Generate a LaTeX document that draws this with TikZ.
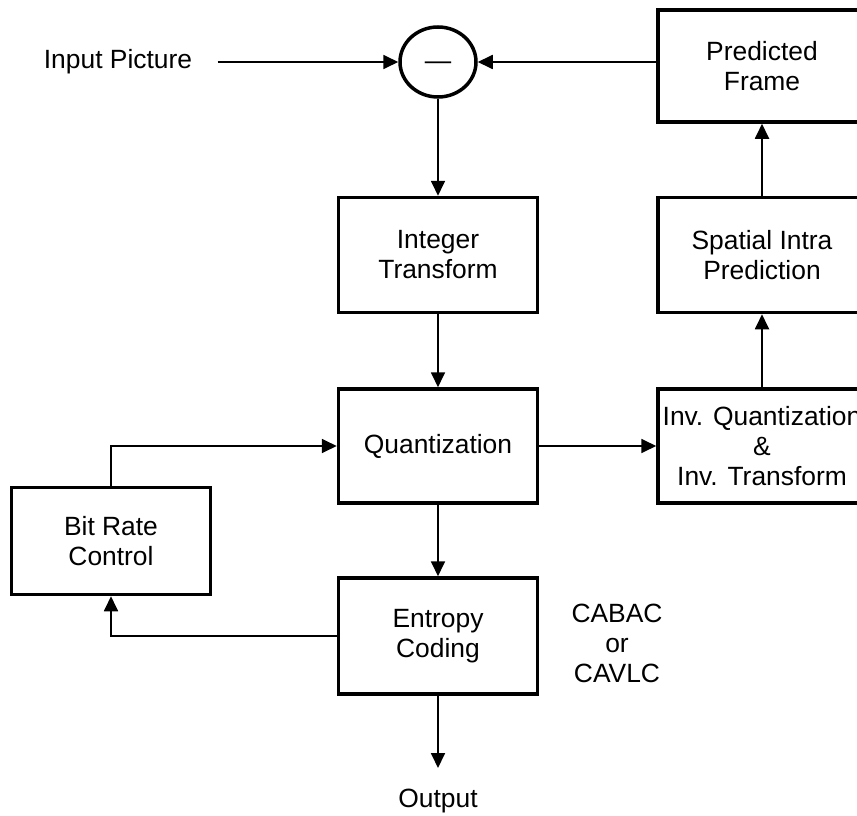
\documentclass[tikz,border=0pt]{standalone}
\usepackage{fontspec}
\setmainfont{Liberation Sans}
\usetikzlibrary{arrows.meta,shapes.geometric,calc}

\begin{document}
\begin{tikzpicture}[x=1pt, y=-1pt,
    every node/.style={font=\fontsize{26.4}{30}\selectfont, align=center},
    block/.style={draw, line width=3.5pt, minimum width=199pt, minimum height=115pt, inner sep=0pt},
    wideblock/.style={block, minimum width=208pt},
    link/.style={line width=1.8pt, -{Triangle[length=15pt,width=14pt]}}]
    \useasboundingbox (0,0) rectangle (857,816);

    % top row
    \node (input) at (118,62) {Input Picture};
    \node[ellipse, draw, line width=3.5pt, minimum width=76pt, minimum height=70pt, inner sep=0pt] (sub) at (438,62) {\raisebox{-8pt}[0pt][0pt]{—}};
    \node[wideblock, minimum height=112pt] (pred) at (762,66) {Predicted\\Frame};

    % forward path
    \node[block] (integer) at (438,255) {Integer\\Transform};
    \node[block, minimum height=114pt] (quant) at (438,446) {Quantization};
    \node[block, minimum height=116pt] (entropy) at (438,636) {Entropy\\Coding};
    \node (output) at (438,801) {Output};
    \coordinate (outtip) at (438,768);
    \node (cabac) at (617,643) {CABAC\\or\\CAVLC};

    % feedback path
    \node[wideblock] (spatial) at (762,255) {Spatial Intra\\Prediction};
    \node[wideblock, minimum height=114pt] (inv) at (762,446) {Inv. Quantization\\\&\\Inv. Transform};
    \node[block, minimum height=107pt] (bitrate) at (111,541) {Bit Rate\\Control};

    % connectors
    \draw[link, shorten <=22pt] (input.east) -- (sub.west);
    \draw[link] (sub.east -| pred.west) -- (sub.east);
    \draw[link] (sub.south) -- (integer.north);
    \draw[link] (integer.south) -- (quant.north);
    \draw[link] (quant.south) -- (entropy.north);
    \draw[link] (entropy.south) -- (outtip);
    \draw[link] (quant.east) -- (inv.west);
    \draw[link] (inv.north) -- (spatial.south);
    \draw[link] (spatial.north) -- (pred.south);
    \draw[link] (bitrate.north) |- (quant.west);
    \draw[link] (entropy.west) -| (bitrate.south);
\end{tikzpicture}
\end{document}
